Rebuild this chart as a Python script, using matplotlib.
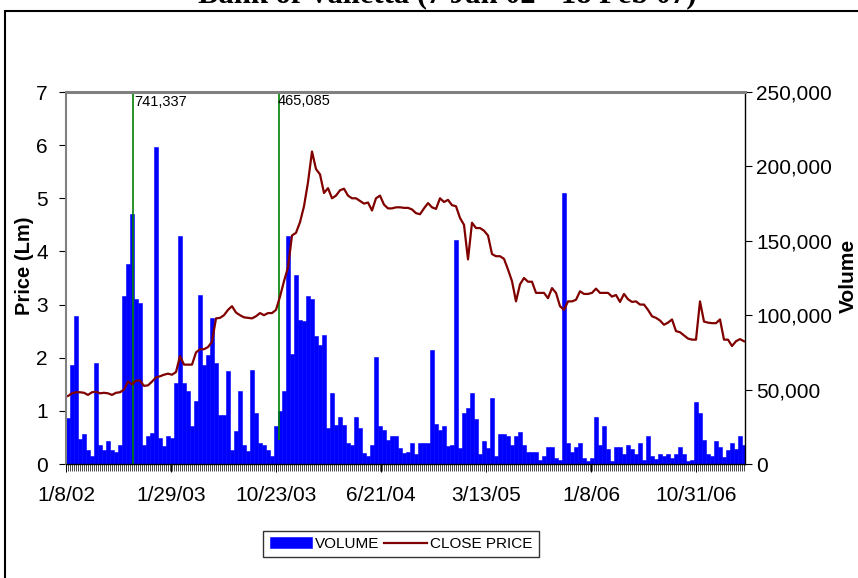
import matplotlib
matplotlib.use("Agg")
import matplotlib.pyplot as plt
import numpy as np
from matplotlib.patches import Rectangle
from matplotlib.ticker import FuncFormatter, MultipleLocator

plt.rcParams['font.family'] = ['Liberation Sans', 'DejaVu Sans']

# volume per period (shares)
volume = [30900, 66800, 99200, 17000, 20200, 9600, 5200, 67900, 12500, 9600,
          15200, 9600, 8100, 13000, 112700, 134400, 168000, 111000, 108000, 13000,
          18600, 20800, 212800, 17500, 11900, 18600, 17500, 54400, 153000, 54400,
          48800, 25300, 42100, 113800, 66800, 73500, 98100, 67900, 33200, 33200,
          62300, 9600, 22000, 48800, 13000, 8500, 63400, 34300, 14100, 13000,
          9600, 5200, 25300, 35400, 48800, 153000, 73900, 126800, 97000, 95900,
          112700, 111100, 85800, 80200, 86500, 24200, 47700, 26400, 31400, 26400,
          14100, 13000, 31400, 24200, 7400, 5200, 13000, 71700, 25300, 23100,
          16400, 18600, 18600, 10800, 7400, 8000, 14100, 6700, 14100, 14100,
          14100, 76600, 26900, 23100, 25300, 11900, 13000, 150500, 10800, 34300,
          37600, 47700, 30200, 6700, 15700, 10800, 44400, 5200, 20200, 20200,
          19000, 13000, 19000, 21500, 12500, 8100, 8100, 8100, 2900, 5600,
          11400, 11400, 4000, 2900, 182100, 14100, 8100, 11200, 14100, 4000,
          2200, 4000, 31600, 13000, 25300, 10100, 1800, 11200, 11200, 6700,
          12500, 10100, 6700, 14100, 2900, 18600, 5200, 3600, 6700, 5200,
          6700, 4000, 6700, 11200, 6700, 2200, 2900, 41700, 34300, 16400,
          6700, 5200, 15200, 11200, 4500, 9600, 14100, 10100, 18600, 13000]

# close price (Lm)
close_price = [1.28, 1.33, 1.35, 1.35, 1.34, 1.30, 1.35, 1.36, 1.33, 1.34,
               1.33, 1.30, 1.34, 1.35, 1.40, 1.55, 1.50, 1.57, 1.57, 1.47,
               1.48, 1.55, 1.63, 1.65, 1.68, 1.70, 1.68, 1.73, 2.03, 1.87,
               1.87, 1.87, 2.10, 2.16, 2.16, 2.20, 2.30, 2.74, 2.75, 2.80,
               2.90, 2.97, 2.85, 2.80, 2.76, 2.75, 2.74, 2.78, 2.84, 2.80,
               2.84, 2.84, 2.90, 3.15, 3.44, 3.70, 4.30, 4.35, 4.55, 4.85,
               5.30, 5.88, 5.55, 5.45, 5.10, 5.19, 5.00, 5.05, 5.15, 5.18,
               5.05, 5.00, 5.00, 4.95, 4.90, 4.92, 4.77, 5.00, 5.05, 4.88,
               4.81, 4.81, 4.83, 4.83, 4.82, 4.82, 4.79, 4.72, 4.70, 4.81,
               4.91, 4.83, 4.80, 5.00, 4.93, 4.97, 4.87, 4.85, 4.63, 4.50,
               3.85, 4.54, 4.44, 4.44, 4.39, 4.30, 3.95, 3.91, 3.91, 3.86,
               3.66, 3.44, 3.06, 3.38, 3.50, 3.43, 3.43, 3.22, 3.22, 3.22,
               3.12, 3.31, 3.22, 2.97, 2.90, 3.06, 3.06, 3.09, 3.25, 3.20,
               3.20, 3.22, 3.30, 3.22, 3.22, 3.22, 3.15, 3.18, 3.05, 3.20,
               3.10, 3.05, 3.06, 3.00, 3.00, 2.90, 2.78, 2.75, 2.70, 2.62,
               2.66, 2.72, 2.50, 2.48, 2.42, 2.36, 2.34, 2.34, 3.06, 2.68,
               2.66, 2.65, 2.65, 2.72, 2.34, 2.34, 2.22, 2.31, 2.35, 2.31]

date_labels = ['1/8/02', '1/29/03', '10/23/03', '6/21/04', '3/13/05', '1/8/06', '10/31/06']

# off-scale volumes, drawn as green markers
big_volume = [741337, 465085]
big_at = [16.7, 53.3]
big_base = [0, 16000]

n = len(volume)
fig = plt.figure(figsize=(8.58, 5.78), dpi=100)
ax = fig.add_axes([66/858, 1 - 464/578, (745-66)/858, (464-92)/578])
ax2 = ax.twinx()
ax.set_zorder(ax2.get_zorder() + 1)
ax.patch.set_visible(False)

ax2.bar(np.arange(n), volume, width=1.0, align='edge', color='#0000FF',
        edgecolor='#0000FF', linewidth=0.4, label='VOLUME')
ax2.vlines(big_at, big_base, 250000, color='#008000', lw=1.2)
ax2.set_ylim(0, 250000)
ax2.yaxis.set_major_locator(MultipleLocator(50000))
ax2.yaxis.set_major_formatter(FuncFormatter(lambda v, p: f'{int(v):,}'))

ax.plot(np.arange(n) + 0.5, close_price, color='#800000', lw=1.6, label='CLOSE PRICE')
ax.set_ylim(0, 7)
ax.set_xlim(0, n - 0.25)
ax.yaxis.set_major_locator(MultipleLocator(1))

ax.text(big_at[0] + 0.4, 6.82, f'{big_volume[0]:,}', fontsize=10.5, va='center', ha='left')
ax.text(big_at[1] - 0.5, 6.84, f'{big_volume[1]:,}', fontsize=10.5, va='center', ha='left')

step = (n - 0.25) * 105 / 679
ax.set_xticks(np.arange(len(date_labels)) * step)
ax.set_xticklabels(date_labels)
ax.set_xticks(np.arange(0, n, 0.5), minor=True)

for a in (ax, ax2):
    for s in a.spines.values():
        s.set_visible(False)
ax.spines['top'].set_visible(True)
ax.spines['top'].set_color('#808080')
ax.spines['top'].set_linewidth(2.2)
ax.spines['left'].set_visible(True)
ax.spines['left'].set_color('#808080')
ax.spines['left'].set_linewidth(1.5)
ax.spines['bottom'].set_visible(True)
ax.spines['bottom'].set_linewidth(1.0)
ax2.spines['right'].set_visible(True)
ax2.spines['right'].set_linewidth(1.0)

ax.tick_params(axis='y', labelsize=15, length=5, pad=8, direction='out')
ax2.tick_params(axis='y', labelsize=15, length=5, pad=3, direction='out')
ax.tick_params(axis='x', which='both', labelsize=15, length=6, width=0.7, pad=10, direction='out')
ax.tick_params(axis='x', which='minor', length=5, width=0.5)

fig.text(25/858, 1 - 266/578, 'Price (Lm)', rotation=90, ha='center', va='center',
         fontsize=14.5, fontweight='bold')
fig.text(848/858, 1 - 276/578, 'Volume', rotation=90, ha='center', va='center',
         fontsize=15, fontweight='bold')

# title mostly outside the top edge, as in the source
fig.text(447/858, 1 - 2.5/578, 'Bank of Valletta (7 Jan 02 - 18 Feb 07)', ha='center',
         va='baseline', fontsize=22, fontweight='bold', family='Liberation Serif')

fig.patches.append(Rectangle((5/858, -0.1), 1.2, 1.1 - 11/578, transform=fig.transFigure,
                             fill=False, edgecolor='black', lw=1.5))

h1, l1 = ax2.get_legend_handles_labels()
h2, l2 = ax.get_legend_handles_labels()
leg = fig.legend(h1 + h2, l1 + l2, loc='center', bbox_to_anchor=(401/858, 1 - 544/578),
                 ncol=2, fontsize=11, frameon=True, fancybox=False, edgecolor='black',
                 handlelength=2.8, handletextpad=0.2, columnspacing=0.3,
                 borderpad=0.4, borderaxespad=0)
leg.get_frame().set_linewidth(1.0)

fig.savefig('out.png', dpi=100)
